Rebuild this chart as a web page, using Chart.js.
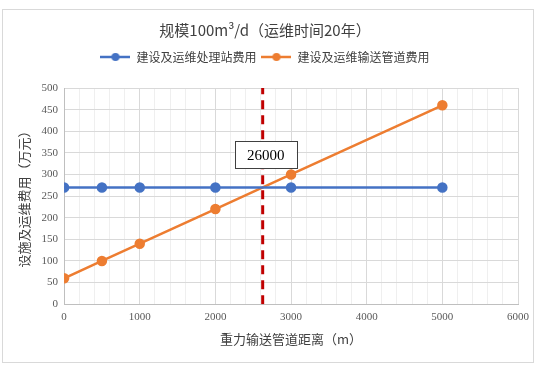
<!DOCTYPE html>
<html lang="zh">
<head>
    <meta charset="UTF-8">
    <title>规模100m³/d</title>
    <script src="https://cdn.jsdelivr.net/npm/chart.js"></script>
    <style>
        body {
            margin: 0;
            background: #ffffff;
        }

        .frame {
            position: absolute;
            left: 2px;
            top: 9px;
            width: 530px;
            height: 352px;
            border: 1px solid #d9d9d9;
        }

        .wrap {
            position: relative;
            width: 540px;
            height: 367px;
        }
    </style>
</head>
<body>
    <div class="wrap">
        <div class="frame"></div>
        <canvas id="costChart" width="540" height="367"></canvas>
    </div>

    <script>
        // data
        const distances = [0, 500, 1000, 2000, 3000, 5000];
        const stationCost = [270, 270, 270, 270, 270, 270];
        const pipeCost = [60, 100, 140, 220, 300, 460];
        const seriesNames = ['建设及运维处理站费用', '建设及运维输送管道费用'];
        const crossDistance = [2625, 2625];
        const crossRange = [0, 500];
        const crossLabel = '26000';
        const xTicks = [0, 1000, 2000, 3000, 4000, 5000, 6000];
        const yTicks = [0, 50, 100, 150, 200, 250, 300, 350, 400, 450, 500];

        const blue = '#4472C4';
        const orange = '#ED7D31';
        const tickFont = { family: "'Liberation Serif', serif", size: 11 };
        const cjkFont = "'Noto Sans CJK SC', sans-serif";

        // legend marker: short line with a dot in the middle
        function legendMarker(color) {
            const c = document.createElement('canvas');
            c.width = 30;
            c.height = 10;
            const g = c.getContext('2d');
            g.strokeStyle = color;
            g.lineWidth = 2.5;
            g.beginPath();
            g.moveTo(0, 5);
            g.lineTo(30, 5);
            g.stroke();
            g.fillStyle = color;
            g.beginPath();
            g.arc(15, 5, 4, 0, Math.PI * 2);
            g.fill();
            return c;
        }

        // extra room under the legend
        const legendGap = {
            id: 'legendGap',
            beforeInit(chart) {
                const fit = chart.legend.fit;
                chart.legend.fit = function () {
                    fit.bind(chart.legend)();
                    this.height += 15;
                };
            }
        };

        // box with the crossing value
        const crossBox = {
            id: 'crossBox',
            afterDatasetsDraw(chart) {
                const ctx = chart.ctx;
                const x = chart.scales.x.getPixelForValue(2665);
                const y = chart.scales.y.getPixelForValue(346);
                const w = 62, h = 27;
                ctx.save();
                ctx.fillStyle = '#ffffff';
                ctx.strokeStyle = '#404040';
                ctx.lineWidth = 1;
                ctx.fillRect(x - w / 2, y - h / 2, w, h);
                ctx.strokeRect(Math.round(x - w / 2) + 0.5, Math.round(y - h / 2) + 0.5, w, h);
                ctx.fillStyle = '#000000';
                ctx.font = "15px 'Liberation Serif', serif";
                ctx.textAlign = 'center';
                ctx.textBaseline = 'middle';
                ctx.fillText(crossLabel, x, y + 1);
                ctx.restore();
            }
        };

        const ctx = document.getElementById('costChart').getContext('2d');

        new Chart(ctx, {
            type: 'line',
            data: {
                datasets: [
                    {
                        label: seriesNames[0],
                        data: distances.map((d, i) => ({ x: d, y: stationCost[i] })),
                        borderColor: blue,
                        backgroundColor: blue,
                        borderWidth: 2.5,
                        pointRadius: 4,
                        pointHoverRadius: 4,
                        marker: legendMarker(blue)
                    },
                    {
                        label: seriesNames[1],
                        data: distances.map((d, i) => ({ x: d, y: pipeCost[i] })),
                        borderColor: orange,
                        backgroundColor: orange,
                        borderWidth: 2.5,
                        pointRadius: 4,
                        pointHoverRadius: 4,
                        marker: legendMarker(orange)
                    },
                    {
                        label: 'cross',
                        data: crossDistance.map((d, i) => ({ x: d, y: crossRange[i] })),
                        borderColor: '#C00000',
                        borderWidth: 3,
                        borderDash: [9, 6],
                        pointRadius: 0
                    }
                ]
            },
            options: {
                responsive: false,
                animation: false,
                layout: {
                    padding: { left: 12, right: 22, top: 13, bottom: 16 }
                },
                plugins: {
                    title: {
                        display: true,
                        text: '规模100m³/d（运维时间20年）',
                        color: '#404040',
                        font: { family: cjkFont, size: 15, weight: 'normal' },
                        padding: { top: 8, bottom: 7 }
                    },
                    legend: {
                        labels: {
                            usePointStyle: true,
                            pointStyleWidth: 30,
                            color: '#404040',
                            font: { family: cjkFont, size: 12 },
                            padding: 5,
                            generateLabels(chart) {
                                return chart.data.datasets.slice(0, 2).map((ds, i) => ({
                                    text: ds.label,
                                    pointStyle: ds.marker,
                                    fontColor: '#404040',
                                    lineWidth: 0,
                                    datasetIndex: i
                                }));
                            }
                        }
                    },
                    tooltip: { enabled: false }
                },
                scales: {
                    x: {
                        type: 'linear',
                        min: 0,
                        max: 6000,
                        afterBuildTicks(axis) {
                            const t = [];
                            for (let v = 0; v <= 6000; v += 200) t.push({ value: v });
                            axis.ticks = t;
                        },
                        ticks: {
                            autoSkip: false,
                            maxRotation: 0,
                            color: '#595959',
                            font: tickFont,
                            padding: 6,
                            callback: v => xTicks.includes(v) ? String(v) : ''
                        },
                        grid: {
                            color: c => c.tick && c.tick.value % 1000 === 0 ? '#d9d9d9' : '#efefef',
                            drawTicks: false
                        },
                        border: { color: '#bfbfbf' },
                        title: {
                            display: true,
                            text: '重力输送管道距离（m）',
                            color: '#404040',
                            font: { family: cjkFont, size: 13 },
                            padding: { top: 2 }
                        }
                    },
                    y: {
                        min: 0,
                        max: 500,
                        afterBuildTicks(axis) {
                            axis.ticks = yTicks.map(v => ({ value: v }));
                        },
                        ticks: {
                            color: '#595959',
                            font: tickFont,
                            padding: 6
                        },
                        grid: { color: '#d9d9d9', drawTicks: false },
                        border: { color: '#bfbfbf' },
                        title: {
                            display: true,
                            text: '设施及运维费用（万元）',
                            color: '#404040',
                            font: { family: cjkFont, size: 13 },
                            padding: { bottom: 4 }
                        }
                    }
                }
            },
            plugins: [legendGap, crossBox]
        });
    </script>
</body>
</html>
